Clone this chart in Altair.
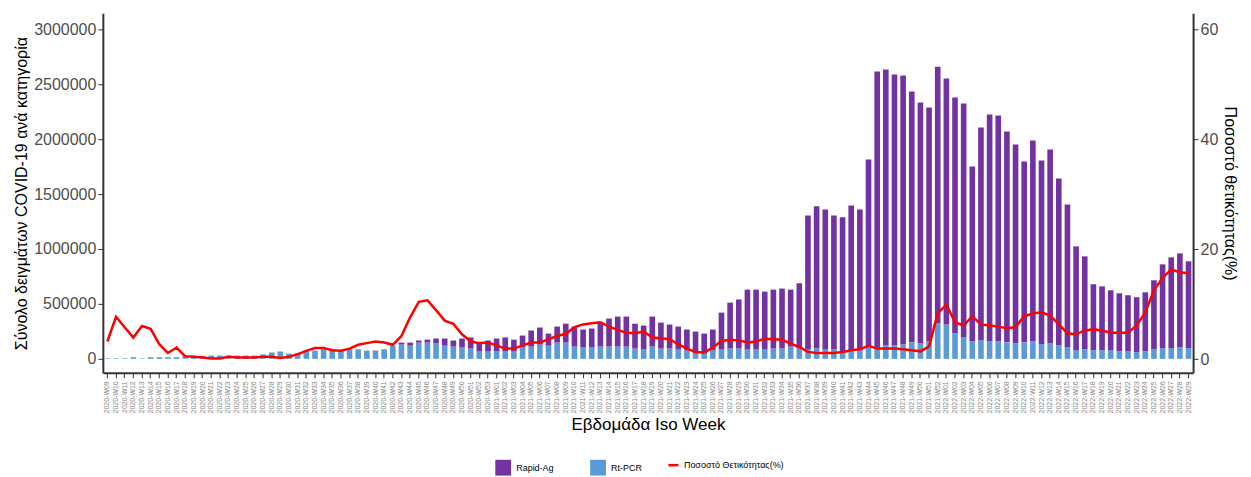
import altair as alt
import pandas as pd

weeks = ([f"2020-W{w:02d}" for w in range(9, 54)]
         + [f"2021-W{w:02d}" for w in range(1, 53)]
         + [f"2022-W{w:02d}" for w in range(1, 30)])

# total samples per week (thousands)
total_k = [
    5, 5, 5, 15, 5, 15, 15, 15, 15, 25, 28, 28, 30, 30, 30, 30, 30, 30, 40, 58, 67, 48, 50, 75, 75, 88, 90, 80, 88, 85,
    75, 75, 85, 120, 148, 148, 167, 175, 185, 185, 167, 185, 195, 150, 167,
    185, 195, 175, 212, 258, 285, 230, 294, 320, 294, 267, 276, 330, 367, 385, 385, 320, 303, 385, 330, 312, 294, 267,
    248, 230, 267, 421, 512, 540, 630, 630, 612, 630, 640, 630, 688, 1306, 1388, 1360, 1306, 1288, 1397, 1360, 1815,
    2615, 2633, 2588, 2579, 2433, 2333, 2288, 2660,
    2551, 2379, 2324, 1751, 2106, 2224, 2215, 2070, 1951, 1797, 1988, 1806, 1906, 1642, 1406, 1024, 933, 679, 660, 624,
    597, 579, 561, 606, 715, 860, 924, 960, 888,
]
# Rt-PCR samples per week (thousands)
pcr_k = [
    5, 5, 5, 15, 5, 15, 15, 15, 15, 25, 28, 28, 30, 30, 30, 30, 30, 30, 40, 58, 67, 48, 50, 75, 75, 88, 90, 80, 88, 80,
    75, 72, 80, 120, 130, 120, 148, 148, 140, 120, 112, 103, 94, 67, 67,
    67, 67, 67, 103, 112, 130, 120, 148, 148, 112, 103, 103, 112, 112, 112, 112, 94, 85, 112, 94, 94, 85, 76,
    48, 48, 76, 85, 94, 94, 85, 85, 85, 94, 94, 112, 94, 88, 97, 88, 88, 70, 79, 79, 106,
    106, 124, 124, 133, 150, 142, 160, 324,
    315, 233, 197, 160, 170, 160, 160, 150, 142, 150, 160, 133, 142, 124, 106, 79, 88, 79, 79, 79,
    70, 70, 61, 70, 88, 97, 97, 106, 97,
]
# positivity rate (%)
positivity = [
    3.2, 7.7, 5.8, 3.9, 6.0, 5.5, 2.7, 1.1, 2.1, 0.5, 0.4, 0.3, 0.1, 0.1, 0.4, 0.3, 0.3, 0.3, 0.4, 0.4, 0.2, 0.4,
    0.9, 1.5, 2.0, 2.0, 1.6, 1.5, 1.9, 2.6, 2.9, 3.2, 3.0, 2.6, 4.2, 7.6, 10.4, 10.7, 8.9, 7.0, 6.4, 4.5, 3.2, 2.9, 3.0,
    2.5, 1.9, 1.9, 2.5, 3.0, 3.0, 3.6, 4.2, 4.6, 5.8, 6.3, 6.5, 6.7, 5.9, 5.3, 4.8, 4.7, 5.0, 3.9, 3.8, 3.6, 2.7,
    1.9, 1.3, 1.2, 2.1, 3.3, 3.5, 3.4, 3.0, 3.2, 3.7, 3.6, 3.5, 2.8, 2.2, 1.3, 1.1, 1.1, 1.1, 1.3, 1.6, 1.8, 2.4,
    1.9, 1.9, 1.9, 1.8, 1.6, 1.4, 2.3, 8.3,
    9.9, 6.7, 6.1, 7.8, 6.3, 6.1, 5.9, 5.6, 5.8, 7.8, 8.3, 8.5, 7.9, 6.3, 4.7, 4.5, 5.2, 5.4, 5.2, 4.8,
    4.8, 4.8, 6.1, 8.5, 12.5, 14.8, 16.3, 15.8, 15.6,
]

rows = []
for i, w in enumerate(weeks):
    rows.append({"week": w, "cat": "Rt-PCR", "v": pcr_k[i] * 1000, "o": 0})
    rows.append({"week": w, "cat": "Rapid-Ag", "v": (total_k[i] - pcr_k[i]) * 1000, "o": 1})
bars_df = pd.DataFrame(rows)
line_df = pd.DataFrame({"week": weeks, "pos": positivity, "s": "Ποσοστό Θετικότητας(%)"})

gray = "#4d4d4d"
x = alt.X("week:O", sort=weeks, title="Εβδομάδα Iso Week",
          scale=alt.Scale(paddingInner=0.35, paddingOuter=0.2),
          axis=alt.Axis(labelAngle=-90, labelFontSize=7, labelColor="#888", titleFontSize=17,
                        titleFontWeight="normal", titleColor="black", domainColor="#333",
                        domainWidth=2, tickColor="#333", labelPadding=3))

bars = alt.Chart(bars_df).mark_bar().encode(
    x=x,
    y=alt.Y("v:Q", stack=True, title="Σύνολο δειγμάτων COVID-19 ανά κατηγορία",
            scale=alt.Scale(domain=[-127000, 3145000], nice=False, zero=False),
            axis=alt.Axis(values=[0, 500000, 1000000, 1500000, 2000000, 2500000, 3000000], format="d",
                          grid=False, labelFontSize=16, labelColor=gray, titleFontSize=16,
                          titleFontWeight="normal", titleColor="black", domainColor="#333",
                          domainWidth=2, tickColor="#333")),
    color=alt.Color("cat:N", scale=alt.Scale(domain=["Rapid-Ag", "Rt-PCR"], range=["#7232a1", "#5b9bd5"]),
                    legend=alt.Legend(title=None, symbolType="square", symbolSize=250, labelFontSize=9,
                                      orient="none", direction="horizontal", legendX=392, legendY=446,
                                      columnPadding=35)),
    order=alt.Order("o:Q"),
)

line = alt.Chart(line_df).mark_line(strokeWidth=2.5).encode(
    x=alt.X("week:O", sort=weeks),
    y=alt.Y("pos:Q", title="Ποσοστό θετικότητας(%)",
            scale=alt.Scale(domain=[-2.5, 62.9], nice=False, zero=False),
            axis=alt.Axis(orient="right", values=[0, 20, 40, 60], grid=False, labelFontSize=16,
                          labelColor=gray, titleFontSize=16, titleFontWeight="normal", titleColor="black",
                          domainColor="#333", domainWidth=2, tickColor="#333")),
    stroke=alt.Stroke("s:N", scale=alt.Scale(range=["red"]),
                      legend=alt.Legend(title=None, symbolType="stroke", symbolStrokeWidth=2.5, labelFontSize=9,
                                        orient="none", legendX=565, legendY=446)),
)

chart = alt.layer(bars, line).resolve_scale(y="independent", color="independent").properties(
    width=1092, height=360
).configure(font="Liberation Sans").configure_view(stroke=None)

chart.save("out.html", embed_options={"renderer": "svg", "actions": False})
